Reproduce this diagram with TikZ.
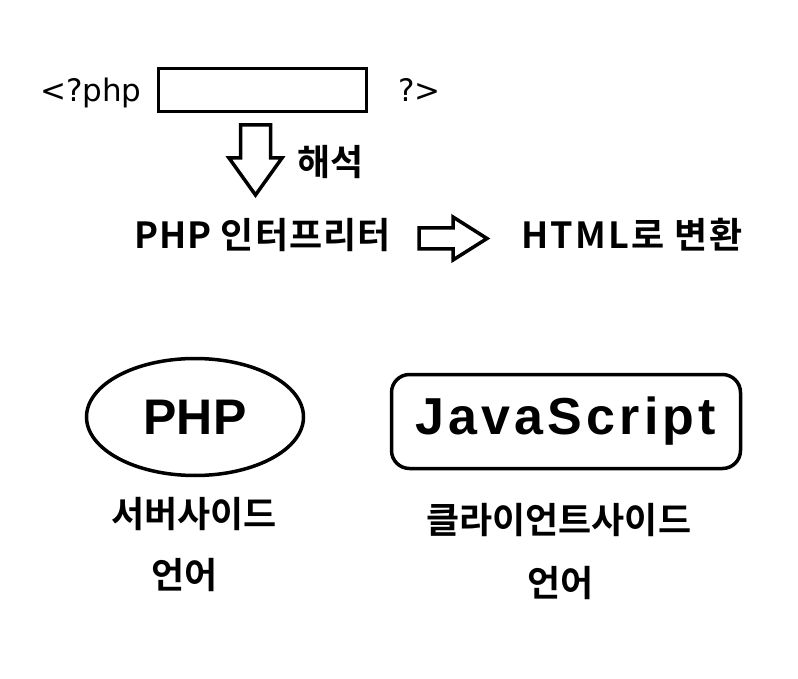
\documentclass[tikz,border=0pt]{standalone}
\usepackage{fontspec}
\setmainfont{DejaVu Sans}
\newfontfamily\krfont{Noto Sans CJK KR Bold}
\newfontfamily\boxfont{Liberation Sans}
\usepackage{tikz}
\usetikzlibrary{shapes.geometric,positioning,calc}

\newcommand{\krsize}{\fontsize{36}{42}\selectfont}

\begin{document}
\begin{tikzpicture}[x=1pt, y=-1pt,
		code/.style={anchor=base west, inner sep=0pt, font=\fontsize{31}{36}\selectfont},
		kr/.style={anchor=base west, inner sep=0pt, font=\krfont\krsize},
		blockarr/.style={draw, line width=3.5pt, line join=miter}]
		\useasboundingbox (0,0) rectangle (798,679);

		% php tag with empty slot
		\node[code] (open) at (40,102) {<?php};
		\node[draw, line width=3pt, minimum width=208pt, minimum height=43pt, inner sep=0pt] (slot) at (262.5,90) {};
		\node[code] (close) at (398,102) {?>};

		% interpreting
		\coordinate (dn) at (255.5,125);
		\draw[blockarr] (dn) +(-15,0) -- +(-15,33) -- +(-26.5,33) -- +(0,70) -- +(26.5,33) -- +(15,33) -- +(15,0) -- cycle;
		\node[kr] (parse) at (297,176) {해석};

		\node[kr, font=\krfont\krsize\addfontfeature{LetterSpace=3}] (interp) at (134,248) {PHP 인터프리터};
		\coordinate (rt) at (419,238.5);
		\draw[blockarr] (rt) +(0,-10.5) -- +(34,-10.5) -- +(34,-21.5) -- +(68,0) -- +(34,21.5) -- +(34,10.5) -- +(0,10.5) -- cycle;
		\node[kr, font=\krfont\krsize\addfontfeature{LetterSpace=6}] (html) at (521,248) {HTML로 변환};

		% server side / client side
		\node[draw, ellipse, line width=3.5pt, minimum width=217pt, minimum height=117pt, inner sep=0pt,
			font=\boxfont\bfseries\fontsize{50}{56}\selectfont] (php) at (195,417) {PHP};
		\node[draw, rounded corners=18pt, line width=3.5pt, minimum width=349pt, minimum height=94pt, inner sep=0pt,
			font=\boxfont\bfseries\addfontfeature{LetterSpace=8}\fontsize{52}{58}\selectfont] (js) at (566,421.5) {JavaScript};

		\node[kr] (srv) at (111,527) {서버사이드};
		\node[kr] (srvlang) at (151,588) {언어};
		\node[kr] (cli) at (426,533) {클라이언트사이드};
		\node[kr] (clilang) at (527,596) {언어};
	\end{tikzpicture}
\end{document}
